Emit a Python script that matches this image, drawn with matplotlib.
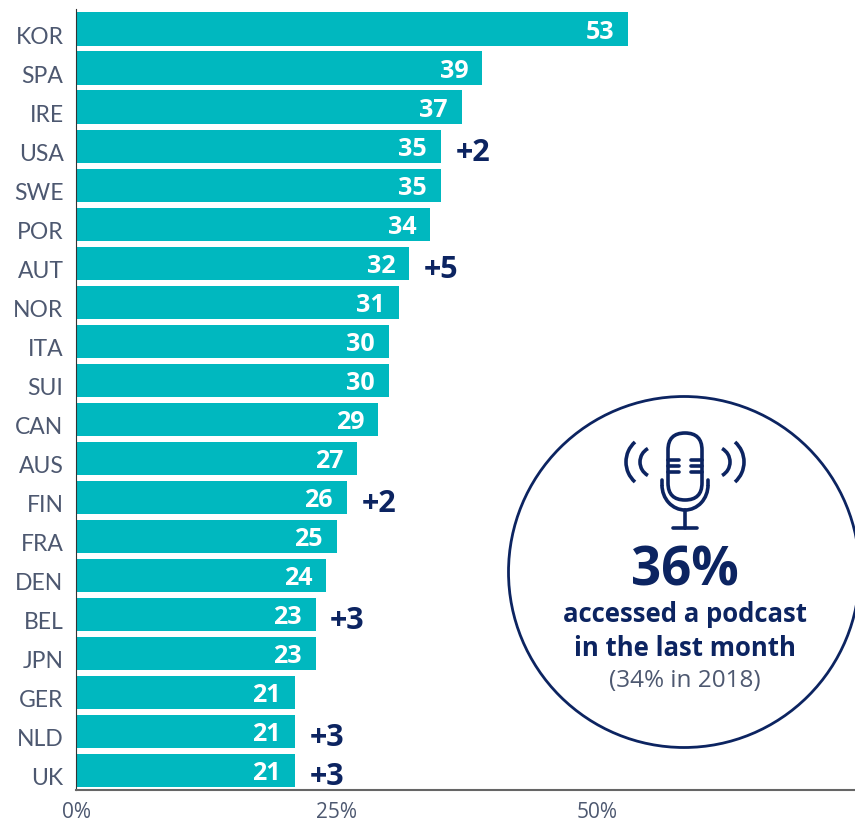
#!/usr/bin/env python
import matplotlib as mpl
mpl.use('Agg')
import matplotlib.pyplot as plt
from matplotlib.patches import Circle, Arc, FancyBboxPatch
from matplotlib.transforms import ScaledTranslation

countries=['KOR','SPA','IRE','USA','SWE','POR','AUT','NOR','ITA','SUI',
           'CAN','AUS','FIN','FRA','DEN','BEL','JPN','GER','NLD','UK']
values=[53,39,37,35,35,34,32,31,30,30,29,27,26,25,24,23,23,21,21,21]
changes=[None,None,None,'+2',None,None,'+5',None,None,None,
         None,None,'+2',None,None,'+3',None,None,'+3','+3']
xticks=[0,25,50]
xticklabels=['0%','25%','50%']

W,H=855,825
TEAL='#00b8bf'
NAVY='#0c2461'
GREY='#4d5870'
WIDE=['Open Sans','DejaVu Sans']
plt.rcParams['font.family']=['Lato','DejaVu Sans']

fig=plt.figure(figsize=(W/100,H/100),dpi=100)
ax=fig.add_axes([76/W,1-790/H,1-76/W,(790-9.5)/H])
ypos=list(range(len(countries)))
ax.barh(ypos,values,height=0.85,color=TEAL,zorder=2)
ax.set_xlim(0,(W-76)/10.42)
ax.set_ylim(len(countries)-0.5,-0.5)
ax.set_yticks(ypos)
ax.set_yticklabels(countries,fontsize=16.5,color=GREY)
ax.set_xticks(xticks)
ax.set_xticklabels(xticklabels,fontsize=15,color=GREY,family=WIDE)
ax.tick_params(axis='y',length=0,pad=9)
ax.tick_params(axis='x',length=0,pad=9)
for s in ['top','right']:
    ax.spines[s].set_visible(False)
ax.spines['left'].set_color('#333333')
ax.spines['bottom'].set_color('#666666')
ax.spines['bottom'].set_linewidth(1.5)

# reference labels sit a few px under the bar centre
shift=ScaledTranslation(0,-4.5/72,fig.dpi_scale_trans)
for lab in ax.get_yticklabels():
    lab.set_transform(lab.get_transform()+shift)

# value inside the bar, change just outside it
for y,v,c in zip(ypos,values,changes):
    ax.annotate(str(v),xy=(v,y),xytext=(-10,-2.5),textcoords='offset points',
        ha='right',va='center',fontsize=18,fontweight='bold',color='white',zorder=3,family=WIDE)
    if c:
        ax.annotate(c,xy=(v,y),xytext=(10.5,-5),textcoords='offset points',
            ha='left',va='center',fontsize=22,fontweight='bold',color=NAVY,zorder=3,family=WIDE)

# overlay in pixel coords for the callout
ov=fig.add_axes([0,0,1,1],facecolor='none')
ov.set_xlim(0,W)
ov.set_ylim(H,0)
ov.axis('off')
ov.add_patch(Circle((684,572),175.5,fc='white',ec=NAVY,lw=2,clip_on=True))

# microphone
lw=2.6
kw=dict(color=NAVY,lw=lw,solid_capstyle='round')
ov.add_patch(FancyBboxPatch((668+17,433+17),0,33,boxstyle='round,pad=17,rounding_size=17',
    fc='none',ec=NAVY,lw=lw))
for yy in [460,466,472]:
    ov.plot([668,679],[yy,yy],**kw)
    ov.plot([691,702],[yy,yy],**kw)
ov.add_patch(Arc((685,485),46,50,theta1=0,theta2=180,ec=NAVY,lw=lw))
ov.plot([662,662],[480,485],**kw)
ov.plot([708,708],[480,485],**kw)
ov.plot([685,685],[510,528],**kw)
ov.plot([673,697],[528,528],**kw)
# sound waves
ov.add_patch(Arc((652.7,462),53.4,53.4,theta1=131.5,theta2=228.5,ec=NAVY,lw=lw))
ov.add_patch(Arc((655.4,462),30.8,30.8,theta1=119,theta2=241,ec=NAVY,lw=lw))
ov.add_patch(Arc((717.3,462),53.4,53.4,theta1=-48.5,theta2=48.5,ec=NAVY,lw=lw))
ov.add_patch(Arc((714.6,462),30.8,30.8,theta1=-61,theta2=61,ec=NAVY,lw=lw))

ov.text(685,571,'36%',ha='center',va='center',fontsize=38,fontweight='bold',color=NAVY,family=WIDE)
ov.text(685,615,'accessed a podcast',ha='center',va='center',fontsize=18.5,fontweight='bold',color=NAVY,family=WIDE)
ov.text(685,648,'in the last month',ha='center',va='center',fontsize=18.5,fontweight='bold',color=NAVY,family=WIDE)
ov.text(685,681,'(34% in 2018)',ha='center',va='center',fontsize=17.5,color=GREY,family=WIDE)

fig.savefig('out.png',dpi=100)
